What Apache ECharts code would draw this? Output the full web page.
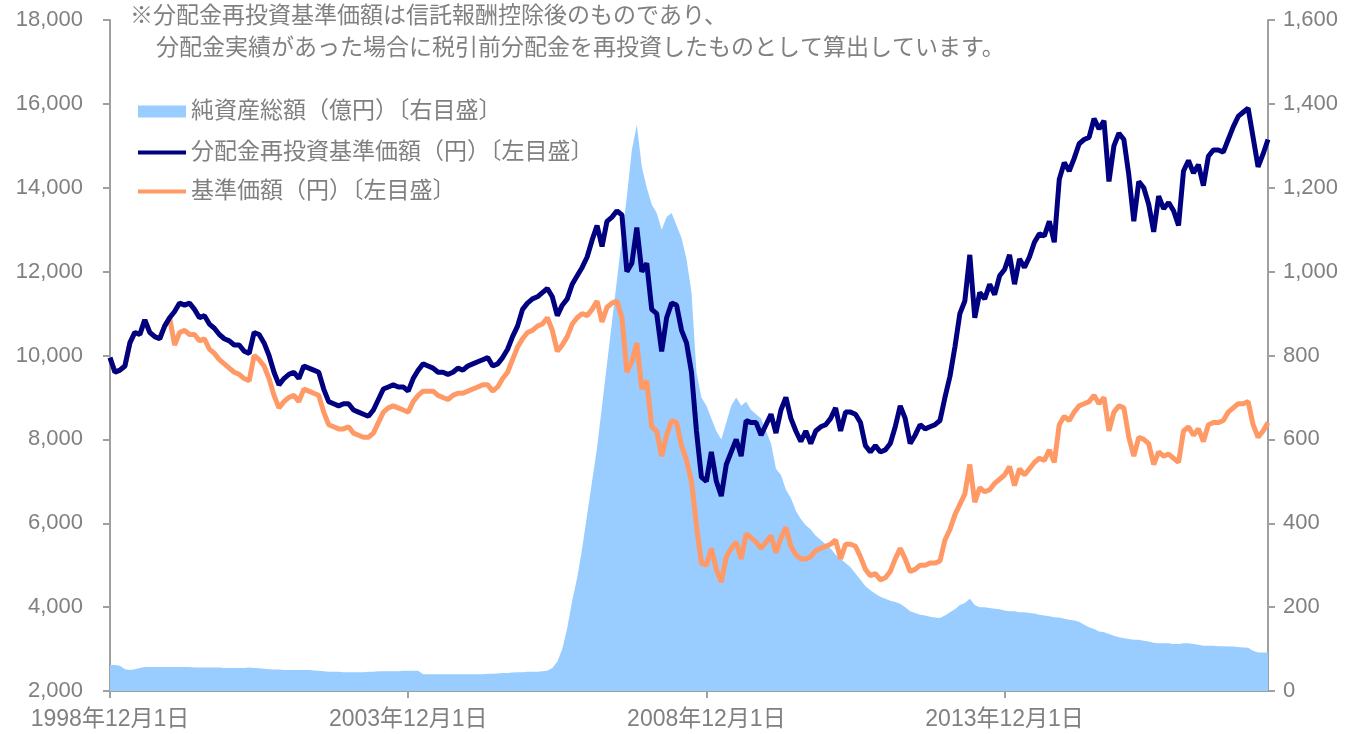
<!DOCTYPE html>
<html>
<head>
<meta charset="utf-8">
<script src="https://cdn.jsdelivr.net/npm/echarts@6/dist/echarts.min.js"></script>
<style>
  html, body { margin: 0; padding: 0; background: #fff; }
  #box { width: 1351px; height: 734px; }
</style>
</head>
<body>
<div id="box"></div>
<script>
// 月次データ（1998年12月〜2018年5月）
var startYear = 1998, startMonth = 12, monthCount = 234;
var tickLabels = ['1998年12月1日', '2003年12月1日', '2008年12月1日', '2013年12月1日'];
var legendNames = ['純資産総額（億円）〔右目盛〕', '分配金再投資基準価額（円）〔左目盛〕', '基準価額（円）〔左目盛〕'];

// 分配金再投資基準価額（円）
var reinvestNav = [
  9950, 9600, 9650, 9750, 10300, 10550, 10500, 10850, 10550, 10450,
  10400, 10700, 10900, 11050, 11250, 11200, 11250, 11100, 10900, 10950,
  10750, 10650, 10500, 10400, 10350, 10250, 10250, 10100, 10050, 10550,
  10500, 10300, 10000, 9600, 9300, 9450, 9550, 9600, 9450, 9750,
  9700, 9650, 9600, 9200, 8900, 8850, 8800, 8850, 8850, 8700,
  8650, 8600, 8550, 8700, 8950, 9200, 9250, 9300, 9250, 9250,
  9150, 9450, 9650, 9800, 9750, 9700, 9600, 9600, 9550, 9600,
  9700, 9650, 9750, 9800, 9850, 9900, 9950, 9750, 9800, 9950,
  10150, 10450, 10700, 11100, 11250, 11350, 11400, 11500, 11600, 11400,
  10950, 11200, 11350, 11700, 11900, 12100, 12350, 12750, 13100, 12600,
  13200, 13300, 13450, 13350, 12000, 12200, 13050, 12000, 12200, 11100,
  11000, 10100, 10900, 11250, 11200, 10600, 10300, 9600, 8200, 7100,
  7000, 7700, 7000, 6650, 7400, 7700, 8000, 7600, 8450, 8400,
  8400, 8100, 8350, 8600, 8150, 8700, 9000, 8500, 8200, 7950,
  8200, 7900, 8200, 8300, 8350, 8500, 8750, 8200, 8650, 8650,
  8600, 8400, 7850, 7700, 7850, 7700, 7750, 7900, 8300, 8800,
  8500, 7900, 8100, 8350, 8250, 8300, 8350, 8450, 9000, 9500,
  10200, 11000, 11300, 12400, 10900, 11500, 11350, 11700, 11450, 11900,
  12050, 12400, 11700, 12300, 12100, 12350, 12700, 12900, 12850, 13200,
  12700, 14200, 14600, 14400, 14700, 15050, 15150, 15200, 15650, 15400,
  15600, 14150, 15000, 15300, 15150, 14300, 13200, 14150, 14000, 13600,
  12950, 13800, 13500, 13650, 13450, 13100, 14400, 14650, 14350, 14550,
  14050, 14750, 14900, 14900, 14850, 15150, 15450, 15700, 15800, 15900,
  15200, 14500, 14800, 15150
];

// 基準価額（円）
var nav = [
  9950, 9600, 9650, 9750, 10300, 10550, 10500, 10850, 10550, 10450,
  10400, 10700, 10900, 10250, 10550, 10600, 10500, 10500, 10350, 10400,
  10150, 10050, 9900, 9800, 9700, 9600, 9550, 9450, 9400, 10000,
  9900, 9750, 9450, 9050, 8750, 8900, 9000, 9050, 8900, 9200,
  9150, 9100, 9050, 8650, 8350, 8300, 8250, 8250, 8300, 8150,
  8100, 8050, 8050, 8150, 8400, 8650, 8750, 8800, 8750, 8700,
  8650, 8900, 9050, 9150, 9150, 9150, 9050, 9000, 8950, 9050,
  9100, 9100, 9150, 9200, 9250, 9300, 9300, 9150, 9250, 9450,
  9600, 9900, 10200, 10400, 10550, 10600, 10700, 10750, 10900, 10600,
  10100, 10250, 10450, 10750, 10900, 11000, 10950, 11100, 11300, 10800,
  11150, 11250, 11300, 10900, 9600, 9850, 10300, 9200, 9400, 8300,
  8200, 7600, 8100, 8450, 8400, 7850, 7500, 7000, 5950, 5050,
  5000, 5400, 4900, 4600, 5200, 5400, 5550, 5150, 5750, 5650,
  5550, 5400, 5550, 5700, 5300, 5650, 5900, 5450, 5250, 5150,
  5150, 5200, 5350, 5400, 5450, 5500, 5600, 5150, 5500, 5500,
  5450, 5200, 4900, 4750, 4800, 4650, 4700, 4850, 5150, 5400,
  5150, 4850, 4900, 5000, 5000, 5050, 5050, 5100, 5600, 5850,
  6200, 6450, 6700, 7400, 6500, 6850, 6750, 6800, 6950, 7050,
  7150, 7350, 6900, 7300, 7150, 7300, 7450, 7550, 7500, 7750,
  7450, 8350, 8550, 8450, 8650, 8800, 8850, 8900, 9050, 8850,
  9000, 8200, 8650, 8800, 8750, 8050, 7600, 8050, 8000, 7900,
  7400, 7700, 7600, 7650, 7550, 7450, 8200, 8300, 8100, 8250,
  7950, 8350, 8400, 8400, 8450, 8650, 8750, 8850, 8850, 8900,
  8350, 8050, 8200, 8400
];

// 純資産総額（億円）
var netAssets = [
  62, 62, 60, 52, 50, 52, 55, 57, 57, 57,
  57, 57, 57, 57, 57, 57, 57, 56, 56, 56,
  56, 56, 56, 55, 55, 55, 55, 55, 56, 55,
  54, 53, 52, 51, 51, 50, 50, 50, 50, 50,
  50, 49, 48, 47, 46, 46, 46, 45, 45, 45,
  45, 45, 46, 46, 47, 47, 47, 47, 47, 48,
  48, 48, 48, 40, 40, 40, 40, 40, 40, 40,
  40, 40, 40, 40, 40, 40, 41, 41, 42, 43,
  43, 44, 45, 45, 46, 46, 46, 47, 48, 55,
  70, 100, 150, 215, 270, 340, 420, 500, 580, 680,
  780, 880, 980, 1080, 1180, 1290, 1350, 1250, 1200, 1160,
  1140, 1100, 1130, 1140, 1110, 1080, 1030, 950, 760, 700,
  680, 650, 620, 600, 640, 680, 700, 680, 690, 670,
  660, 650, 620, 590, 530, 515, 480, 460, 430, 410,
  395, 385, 370, 360, 350, 340, 325, 315, 305, 295,
  280, 265, 250, 240, 232, 225, 220, 215, 212, 208,
  200, 190, 186, 182, 180, 177, 175, 174, 180, 188,
  195, 205, 210, 220, 205, 200, 200, 198, 196, 195,
  192, 190, 190, 188, 188, 186, 185, 182, 180, 178,
  176, 175, 172, 170, 168, 165, 158, 152, 148, 142,
  140, 136, 132, 128, 126, 124, 122, 122, 120, 118,
  115, 114, 114, 114, 112, 112, 114, 114, 112, 110,
  108, 108, 108, 107, 107, 106, 106, 105, 104, 103,
  96, 92, 92, 92
];

// 月のカテゴリ
var months = [];
for (var i = 0; i < monthCount; i++) {
  var m = startMonth - 1 + i;
  var y = startYear + Math.floor(m / 12);
  months.push(y + '年' + (m % 12 + 1) + '月1日');
}

var fontFam = "'Liberation Sans', 'Noto Sans CJK JP', sans-serif";
var gray = '#808080';
var axisGray = '#a0a0a0';
var fs = 22;   // 目盛
var fsText = 23; // 注記・凡例

function showTick(idx, val) {
  return tickLabels.indexOf(val) >= 0;
}

function commaFmt(v) {
  return v.toLocaleString('en-US');
}

var myCharts = echarts.init(document.getElementById('box'));
var option = {
  animation: false,
  backgroundColor: '#fff',
  textStyle: { fontFamily: fontFam },
  graphic: [
    {
      type: 'text', left: 130, top: 5,
      style: { text: '※分配金再投資基準価額は信託報酬控除後のものであり、', fontSize: fsText, fill: gray, fontFamily: fontFam }
    },
    {
      type: 'text', left: 156, top: 37,
      style: { text: '分配金実績があった場合に税引前分配金を再投資したものとして算出しています。', fontSize: fsText, fill: gray, fontFamily: fontFam }
    }
  ],
  // 凡例：面は四角、線は細い帯
  legend: [
    {
      orient: 'vertical',
      left: 133, top: 95,
      itemWidth: 48, itemHeight: 12,
      textStyle: { fontSize: fsText, color: gray, fontFamily: fontFam },
      data: [{ name: legendNames[0], icon: 'rect' }]
    },
    {
      orient: 'vertical',
      left: 133, top: 136,
      itemWidth: 48, itemHeight: 4,
      itemGap: 16,
      textStyle: { fontSize: fsText, color: gray, fontFamily: fontFam },
      data: [
        { name: legendNames[1], icon: 'rect' },
        { name: legendNames[2], icon: 'rect' }
      ]
    }
  ],
  grid: { left: 110, right: 83, top: 20, bottom: 43 },
  xAxis: {
    type: 'category',
    boundaryGap: false,
    data: months,
    axisLine: { lineStyle: { color: axisGray, width: 2 } },
    axisTick: { interval: showTick, length: 7, lineStyle: { color: axisGray, width: 2 } },
    axisLabel: { interval: showTick, color: gray, fontSize: 23, margin: 17, fontFamily: fontFam, hideOverlap: false },
    splitLine: { show: false }
  },
  yAxis: [
    {
      type: 'value', min: 2000, max: 18000, interval: 2000,
      axisLine: { show: true, lineStyle: { color: axisGray, width: 2 } },
      axisTick: { show: true, length: 7, lineStyle: { color: axisGray, width: 2 } },
      axisLabel: { color: gray, fontSize: fs, margin: 27, fontFamily: fontFam, formatter: commaFmt },
      splitLine: { show: false }
    },
    {
      type: 'value', min: 0, max: 1600, interval: 200, position: 'right',
      axisLine: { show: true, lineStyle: { color: axisGray, width: 2 } },
      axisTick: { show: true, length: 7, lineStyle: { color: axisGray, width: 2 } },
      axisLabel: { color: gray, fontSize: fs, margin: 15, fontFamily: fontFam, formatter: commaFmt },
      splitLine: { show: false }
    }
  ],
  series: [
    {
      name: legendNames[0], type: 'line', yAxisIndex: 1,
      data: netAssets, symbol: 'none',
      lineStyle: { width: 0, color: '#99ccff' },
      itemStyle: { color: '#99ccff' },
      areaStyle: { color: '#99ccff', opacity: 1 },
      z: 1
    },
    {
      name: legendNames[1], type: 'line', yAxisIndex: 0,
      data: reinvestNav, symbol: 'none',
      lineStyle: { width: 5, color: '#000080' },
      itemStyle: { color: '#000080' },
      z: 3
    },
    {
      name: legendNames[2], type: 'line', yAxisIndex: 0,
      data: nav, symbol: 'none',
      lineStyle: { width: 5, color: '#ff9966' },
      itemStyle: { color: '#ff9966' },
      z: 2
    }
  ]
};
myCharts.setOption(option);
</script>
</body>
</html>
